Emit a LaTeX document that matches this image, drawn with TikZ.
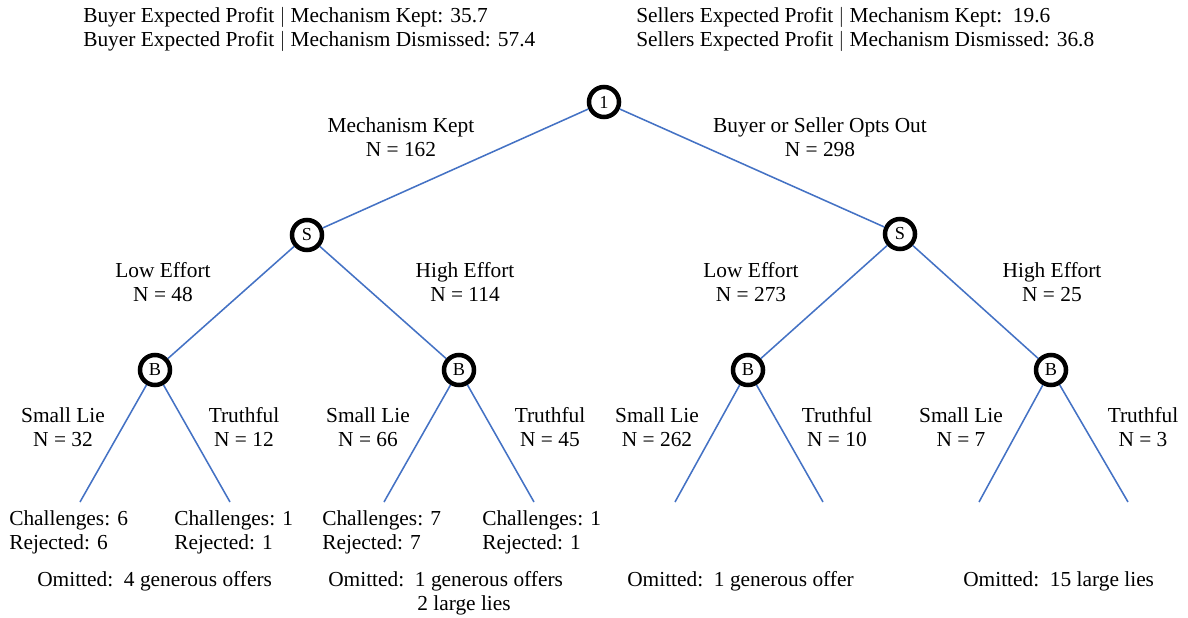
\documentclass[tikz,border=0pt]{standalone}
\usepackage{fontspec}
\setmainfont{Liberation Serif}

\definecolor{edgeblue}{RGB}{68,114,196}

\tikzset{
  chance/.style={circle, draw=black, line width=3.2pt, minimum size=0.75cm, inner sep=0pt, font=\fontsize{13}{15}\selectfont},
  branch/.style={draw=edgeblue, line width=1.1pt},
  lbl/.style={align=center, inner sep=0pt, font=\fontsize{15.2}{17}\selectfont},
  leaf/.style={align=left, anchor=west, inner sep=0pt, font=\fontsize{15.2}{17}\selectfont}
}

\begin{document}
\begin{tikzpicture}[x=0.025cm, y=-0.025cm]
\useasboundingbox (0,0) rectangle (1188,617);

% profits
\node[leaf] (buyer) at (83,29) {Buyer Expected Profit $|$ Mechanism Kept: 35.7\\Buyer Expected Profit $|$ Mechanism Dismissed: 57.4};
\node[leaf] (seller) at (636,29) {Sellers Expected Profit $|$ Mechanism Kept:\ \ 19.6\\Sellers Expected Profit $|$ Mechanism Dismissed: 36.8};

% decision nodes
\node[chance] (root) at (604,102) {1};
\node[chance] (sL) at (307,235) {S};
\node[chance] (sR) at (900,234) {S};
\node[chance] (bLL) at (155,370) {B};
\node[chance] (bLH) at (459,370) {B};
\node[chance] (bRL) at (748,370) {B};
\node[chance] (bRH) at (1051,370) {B};

\coordinate (e1) at (80,502);
\coordinate (e2) at (230,502);
\coordinate (e3) at (384,502);
\coordinate (e4) at (534,502);
\coordinate (e5) at (675,502);
\coordinate (e6) at (823,502);
\coordinate (e7) at (979,502);
\coordinate (e8) at (1128,502);

\draw[branch] (root) -- (sL);
\draw[branch] (root) -- (sR);
\draw[branch] (sL) -- (bLL);
\draw[branch] (sL) -- (bLH);
\draw[branch] (sR) -- (bRL);
\draw[branch] (sR) -- (bRH);
\draw[branch] (bLL) -- (e1);
\draw[branch] (bLL) -- (e2);
\draw[branch] (bLH) -- (e3);
\draw[branch] (bLH) -- (e4);
\draw[branch] (bRL) -- (e5);
\draw[branch] (bRL) -- (e6);
\draw[branch] (bRH) -- (e7);
\draw[branch] (bRH) -- (e8);

% branch labels
\node[lbl] (kept) at (401,137) {Mechanism Kept\\N = 162};
\node[lbl] (optout) at (820,137) {Buyer or Seller Opts Out\\N = 298};
\node[lbl] (lowL) at (163,282) {Low Effort\\N = 48};
\node[lbl] (highL) at (465,282) {High Effort\\N = 114};
\node[lbl] (lowR) at (751,282) {Low Effort\\N = 273};
\node[lbl] (highR) at (1052,282) {High Effort\\N = 25};

\node[lbl] (lie1) at (63,427) {Small Lie\\N = 32};
\node[lbl] (tru1) at (244,427) {Truthful\\N = 12};
\node[lbl] (lie2) at (368,427) {Small Lie\\N = 66};
\node[lbl] (tru2) at (550,427) {Truthful\\N = 45};
\node[lbl] (lie3) at (657,427) {Small Lie\\N = 262};
\node[lbl] (tru3) at (837,427) {Truthful\\N = 10};
\node[lbl] (lie4) at (961,427) {Small Lie\\N = 7};
\node[lbl] (tru4) at (1143,427) {Truthful\\N = 3};

% outcomes
\node[leaf] (out1) at (9,532) {Challenges: 6\\Rejected: 6};
\node[leaf] (out2) at (174,532) {Challenges: 1\\Rejected: 1};
\node[leaf] (out3) at (322,532) {Challenges: 7\\Rejected: 7};
\node[leaf] (out4) at (482,532) {Challenges: 1\\Rejected: 1};

\node[leaf] (om1) at (37,581) {Omitted:\ \ 4 generous offers};
\node[leaf] (om2) at (328,593) {Omitted:\ \ 1 generous offers\\\hspace*{2.225cm}2 large lies};
\node[leaf] (om3) at (627,581) {Omitted:\ \ 1 generous offer};
\node[leaf] (om4) at (963,581) {Omitted:\ \ 15 large lies};
\end{tikzpicture}
\end{document}
